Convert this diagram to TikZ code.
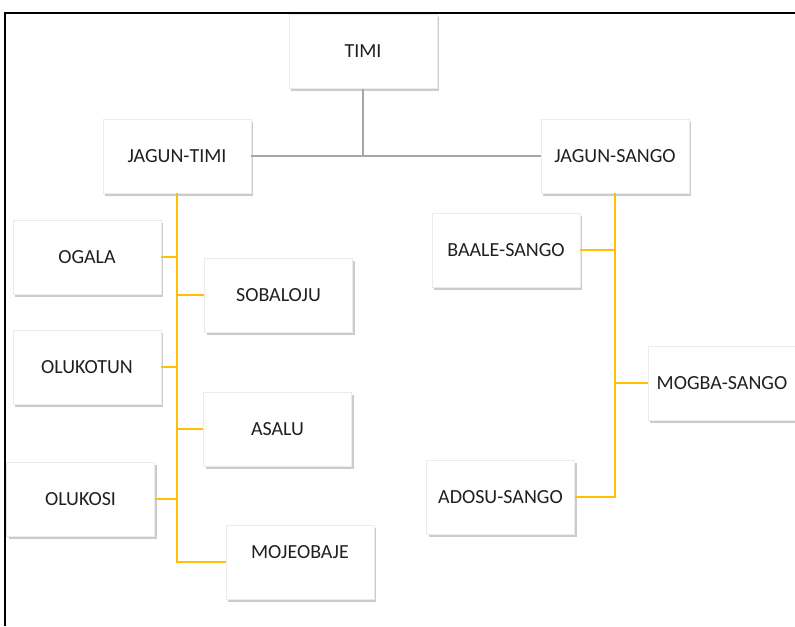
\documentclass[tikz,border=0pt]{standalone}
\usepackage{fontspec}
\setmainfont{Carlito}
\usepackage{tikz}
\usetikzlibrary{shadows}
\definecolor{stemgray}{HTML}{A6A6A6}
\definecolor{stemgold}{HTML}{FFC000}
\definecolor{inkgray}{HTML}{202020}
\tikzset{
  chief/.style={draw=black!8, fill=white, minimum width=111pt, minimum height=55.5pt,
    inner sep=0pt, text=inkgray, font=\fontsize{15}{18}\selectfont,
    drop shadow={shadow xshift=1.6pt, shadow yshift=-2.2pt, fill=black!40}},
  greyline/.style={draw=stemgray, line width=1pt},
  goldline/.style={draw=stemgold, line width=1.2pt}
}
\begin{document}
\begin{tikzpicture}[x=0.75pt,y=-0.75pt]
        \useasboundingbox (0,0) rectangle (795,626);
        \draw[line width=1.2pt] (5,626)-- (5,13)-- (795,13);

        \node[chief] (timi) at (363,51.5) {TIMI};
        \node[chief] (jtimi) at (177,156) {JAGUN-TIMI};
        \node[chief] (jsango) at (615,156) {JAGUN-SANGO};

        \node[chief] (ogala) at (87,257) {OGALA};
        \node[chief] (sobaloju) at (278.5,295) {SOBALOJU};
        \node[chief] (olukotun) at (87,367) {OLUKOTUN};
        \node[chief] (asalu) at (277.5,429) {ASALU};
        \node[chief] (olukosi) at (80.5,499) {OLUKOSI};
        \node[chief] (mojeobaje) at (300,562) {\raisebox{3pt}[0pt][0pt]{MOJEOBAJE}};

        \node[chief] (baale) at (506,250) {BAALE-SANGO};
        \node[chief] (mogba) at (722,383) {MOGBA-SANGO};
        \node[chief] (adosu) at (500.5,497) {ADOSU-SANGO};

        \draw[greyline] (timi.south)-- (timi.south |- jtimi.east);
        \draw[greyline] (jtimi.east)-- (jsango.west);

        \draw[goldline] (jtimi.south)-- (jtimi.south |- mojeobaje.west)-- (mojeobaje.west);
        \draw[goldline] (ogala.east)-- (ogala.east -| jtimi.south);
        \draw[goldline] (sobaloju.west)-- (sobaloju.west -| jtimi.south);
        \draw[goldline] (olukotun.east)-- (olukotun.east -| jtimi.south);
        \draw[goldline] (asalu.west)-- (asalu.west -| jtimi.south);
        \draw[goldline] (olukosi.east)-- (olukosi.east -| jtimi.south);

        \draw[goldline] (jsango.south)-- (jsango.south |- adosu.east)-- (adosu.east);
        \draw[goldline] (baale.east)-- (baale.east -| jsango.south);
        \draw[goldline] (mogba.west)-- (mogba.west -| jsango.south);
    \end{tikzpicture}
\end{document}
